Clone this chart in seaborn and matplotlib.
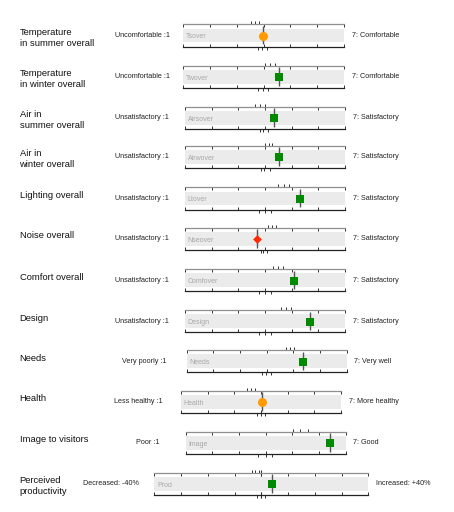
import numpy as np
import matplotlib
matplotlib.use("Agg")
import matplotlib.pyplot as plt
import seaborn as sns

plt.rcParams['font.family'] = ['Liberation Sans', 'DejaVu Sans']

# ---------------- data ----------------
titles = ["Temperature\nin summer overall", "Temperature\nin winter overall",
          "Air in\nsummer overall", "Air in\nwinter overall",
          "Lighting overall", "Noise overall", "Comfort overall", "Design",
          "Needs", "Health", "Image to visitors", "Perceived\nproductivity"]
codes = ["Tsover", "Twover", "Airsover", "Airwover", "Ltover", "Nseover",
         "Comfover", "Design", "Needs", "Health", "Image", "Prod"]
low_labels = ["Uncomfortable :1", "Uncomfortable :1", "Unsatisfactory :1",
              "Unsatisfactory :1", "Unsatisfactory :1", "Unsatisfactory :1",
              "Unsatisfactory :1", "Unsatisfactory :1", "Very poorly :1",
              "Less healthy :1", "Poor :1", "Decreased: -40%"]
high_labels = ["7: Comfortable", "7: Comfortable", "7: Satisfactory",
               "7: Satisfactory", "7: Satisfactory", "7: Satisfactory",
               "7: Satisfactory", "7: Satisfactory", "7: Very well",
               "7: More healthy", "7: Good", "Increased: +40%"]
scale_min = [1, 1, 1, 1, 1, 1, 1, 1, 1, 1, 1, -40]
scale_max = [7, 7, 7, 7, 7, 7, 7, 7, 7, 7, 7, 40]
scale_step = [1, 1, 1, 1, 1, 1, 1, 1, 1, 1, 1, 10]
scale_mid = [4, 4, 4, 4, 4, 4, 4, 4, 4, 4, 4, 0]
means = [3.96, 4.57, 4.35, 4.51, 5.31, 3.71, 5.10, 5.69, 5.35, 4.02, 6.43, 4.1]
status = ["amber", "good", "good", "good", "good", "bad",
          "good", "good", "good", "amber", "good", "good"]
top_bench = [[3.53, 3.68, 3.83], [4.05, 4.24, 4.42], [3.63, 3.81, 4.00],
             [4.00, 4.14, 4.27], [4.50, 4.71, 4.91], [4.10, 4.25, 4.40],
             [4.31, 4.50, 4.69], [4.59, 4.78, 4.96], [4.72, 4.88, 5.04],
             [3.46, 3.61, 3.78], [5.04, 5.31, 5.60], [-3.6, -2.35, -0.75]]
bottom_bench = [[3.80, 3.95, 4.11], [3.80, 3.99, 4.17], [3.81, 3.94, 4.12],
                [3.84, 3.96, 4.18], [3.79, 4.00, 4.21], [3.84, 3.94, 4.06],
                [3.79, 4.00, 4.21], [3.79, 4.00, 4.21], [3.81, 3.98, 4.15],
                [3.84, 3.99, 4.15], [3.73, 4.00, 4.25], [-1.7, 0.0, 1.4]]

# ---------------- styling ----------------
status_marker = {"good": "s", "amber": "o", "bad": "D"}
status_color = {"good": "#008a00", "amber": "#ff9a00", "bad": "#ff2a00"}
status_size = {"good": 30, "amber": 42, "bad": 20}

# layout (pixels)
W, H = 454, 512
row_top = [24.3, 65.7, 106.7, 145.7, 187.3, 227.7, 269.0, 310.0, 350.0, 390.7, 431.7, 472.7]
bar_x0 = [183.3, 183.3, 185, 185, 185, 185, 185, 185, 186.7, 181, 185.5, 154.3]
bar_x1 = [344, 344, 345, 345, 345, 345, 345, 345, 346.7, 341, 345.5, 368.3]
low_right = [170, 170, 169, 168.5, 168.5, 168.5, 169, 169, 167, 162.3, 159, 139.3]
bar_h = 22.4

fig = plt.figure(figsize=(W / 100, H / 100), dpi=100)
fig.patch.set_facecolor("white")

for i in range(len(titles)):
    top = row_top[i]
    x0, x1 = bar_x0[i], bar_x1[i]
    ax = fig.add_axes([x0 / W, 1 - (top + bar_h) / H, (x1 - x0) / W, bar_h / H])
    lo, hi, st = scale_min[i], scale_max[i], scale_step[i]
    ax.set_xlim(lo, hi)
    ax.set_ylim(0, 1)
    ax.set_facecolor("none")
    ax.axhspan(0.2, 0.8, color="#ebebeb", lw=0, zorder=0)
    for s in ["left", "right"]:
        ax.spines[s].set_visible(False)
    ax.spines["top"].set_color("#8f8f8f")
    ax.spines["top"].set_linewidth(0.9)
    ax.spines["bottom"].set_color("#222222")
    ax.spines["bottom"].set_linewidth(0.9)
    ax.set_xticks(np.arange(lo, hi + st / 2, st))
    ax.set_yticks([])
    ax.tick_params(axis="x", top=True, bottom=True, direction="in", length=2.4,
                   width=0.7, colors="#333333", labelbottom=False, labeltop=False)

    # benchmark ticks
    ax.vlines(top_bench[i], 1.0, 1.13, colors="#333333", lw=0.7, clip_on=False)
    ax.vlines(bottom_bench[i], -0.13, 0.0, colors="#333333", lw=0.7, clip_on=False)
    if scale_min[i] < 0:
        ax.vlines([scale_mid[i]], 0.85, 1.12, colors="#333333", lw=0.8, clip_on=False)
        ax.vlines([scale_mid[i]], -0.12, 0.15, colors="#333333", lw=0.8, clip_on=False)

    # mean line + marker
    ax.vlines([means[i]], 0.1, 0.93, colors="#555555", lw=1.0, zorder=2)
    sns.scatterplot(x=[means[i]], y=[0.48], ax=ax, marker=status_marker[status[i]],
                    color=status_color[status[i]], s=status_size[status[i]],
                    linewidth=0, legend=False, zorder=3, clip_on=False)
    ax.set_xlabel("")
    ax.set_ylabel("")

    ax.annotate(codes[i], xy=(0, 0.45), xycoords="axes fraction",
                xytext=(2.0, 0), textcoords="offset points",
                ha="left", va="center", fontsize=5.0, color="#a8a8a8")

    yc = 1 - (top + bar_h / 2) / H
    fig.text(19.5 / W, 1 - (top + 3.6) / H, titles[i], ha="left", va="top",
             fontsize=6.75, color="#111111", linespacing=1.25)
    fig.text(low_right[i] / W, yc, low_labels[i], ha="right", va="center",
             fontsize=5.25, color="#222222")
    fig.text((x1 + 7.7) / W, yc, high_labels[i], ha="left", va="center",
             fontsize=5.25, color="#222222")

fig.savefig("out.png", dpi=100, facecolor="white")
